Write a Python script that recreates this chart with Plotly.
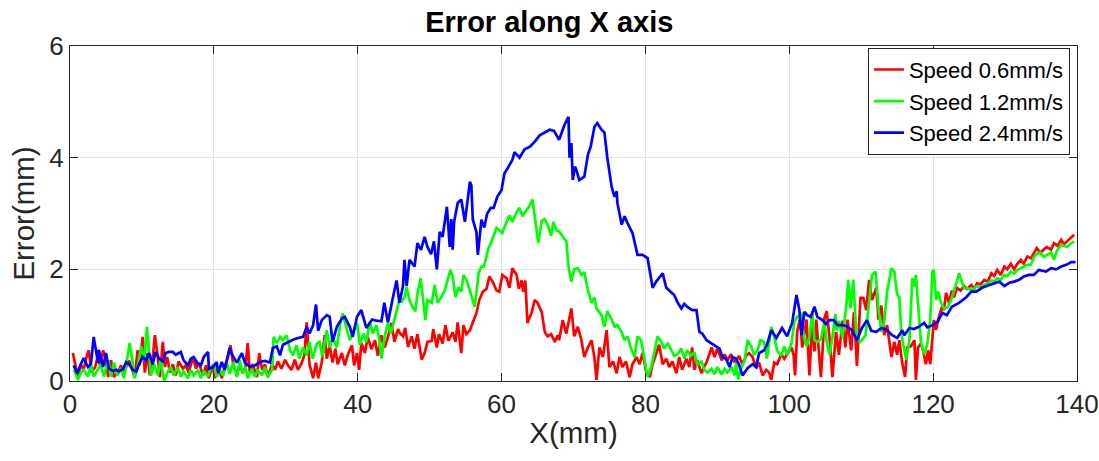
import plotly.graph_objects as go

# ---------------- data ----------------
blue_x = [0.5,1.0,1.5,1.9,2.5,2.9,3.3,3.9,4.0,4.6,5.0,5.4,6.0,6.4,6.8,7.4,7.8,8.2,8.75,9.2,9.6,10.1,10.6,11.0,11.5,11.9,12.4,12.9,13.3,13.75,14.3,14.7,15.4,15.8,16.4,16.8,17.2,17.8,18.2,18.6,19.2,19.3,19.9,20.4,20.6,21.1,21.5,22.2,22.6,23.2,23.9,24.3,25.0,25.7,26.4,27.1,27.8,28.2,28.75,29.2,29.6,30.3,31.0,31.7,32.4,32.9,33.3,33.8,34.2,34.5,35.0,35.7,36.1,36.5,37.1,37.8,38.2,38.9,39.3,39.9,40.5,41.2,42.0,42.6,43.3,43.7,44.2,44.9,45.4,45.8,46.3,46.5,46.8,47.2,47.9,48.3,48.8,49.3,49.7,50.2,50.6,51.0,51.4,51.8,52.4,52.8,53.0,53.2,53.4,53.9,54.4,54.9,55.3,55.6,55.8,56.0,56.5,56.7,57.2,57.6,58.0,58.5,58.9,59.4,60.0,60.4,60.8,61.5,61.8,62.5,63.2,64.0,64.7,65.3,66.0,66.7,67.3,68.0,68.75,69.3,69.45,69.7,69.9,70.2,70.4,70.8,71.5,72.0,72.4,72.9,73.3,73.9,74.3,74.7,75.3,75.7,76.0,76.1,76.7,77.1,77.5,78.2,78.9,79.6,80.3,81.0,81.5,81.9,82.4,82.9,83.3,84.0,84.5,85.0,85.4,85.8,86.5,87.1,87.5,87.9,88.5,89.2,89.9,90.3,90.7,91.2,91.7,92.1,92.6,93.0,93.5,94.2,94.9,95.4,95.8,96.5,96.9,97.5,98.2,99.0,99.7,100.4,101.0,101.4,101.7,102.1,102.5,103.0,103.5,103.9,104.6,105.1,105.6,106.2,106.7,107.4,108.0,108.7,109.4,110.1,110.8,111.4,112.1,112.8,113.5,114.3,115.0,115.7,116.0,116.7,117.3,118.0,118.75,119.2,119.9,120.6,121.3,121.9,122.6,123.6,124.6,125.3,126.0,126.8,127.8,128.5,129.2,129.9,130.6,131.25,131.9,132.6,133.3,134.0,134.7,135.7,136.4,137.1,137.8,138.5,139.2,139.8]
blue_y = [0.28,0.14,0.3,0.41,0.25,0.3,0.79,0.32,0.56,0.25,0.5,0.22,0.18,0.2,0.17,0.22,0.34,0.3,0.2,0.17,0.3,0.43,0.37,0.5,0.3,0.52,0.4,0.35,0.5,0.52,0.52,0.47,0.52,0.37,0.28,0.4,0.43,0.3,0.28,0.43,0.52,0.22,0.25,0.34,0.14,0.34,0.2,0.59,0.46,0.33,0.5,0.33,0.26,0.28,0.34,0.36,0.33,0.59,0.62,0.46,0.65,0.7,0.74,0.77,0.79,0.97,0.85,1.0,1.37,0.9,1.09,1.18,1.15,0.7,0.97,1.12,1.15,0.97,0.79,1.15,1.27,0.95,1.1,1.08,1.07,1.4,1.05,1.5,1.8,1.4,1.7,2.17,1.7,2.17,2.05,2.47,2.35,2.58,2.4,2.27,2.5,2.0,2.67,2.58,3.12,2.4,2.9,2.35,2.85,3.19,3.25,2.85,3.3,3.57,3.5,2.89,2.67,2.26,2.89,2.75,3.0,3.1,3.1,3.3,3.42,3.72,3.8,3.96,4.1,4.0,4.15,4.2,4.3,4.4,4.45,4.5,4.48,4.32,4.59,4.73,4.0,4.26,3.6,3.84,3.78,3.6,3.66,4.05,4.2,4.55,4.62,4.5,4.45,4.0,3.48,3.3,3.4,3.19,2.8,2.95,2.83,2.65,2.26,2.26,2.2,1.67,1.78,1.84,1.93,1.67,1.62,1.54,1.4,1.3,1.38,1.33,1.27,1.27,0.88,0.85,0.73,0.67,0.61,0.58,0.43,0.4,0.25,0.43,0.4,0.3,0.1,0.23,0.3,0.25,0.5,0.55,0.65,0.91,0.77,0.95,0.8,1.04,1.54,1.27,0.82,1.24,1.18,1.15,1.33,1.15,1.09,1.02,1.09,1.09,1.0,1.0,0.98,0.91,0.73,0.95,1.09,0.9,0.88,0.95,0.92,0.82,0.77,0.91,0.82,0.95,0.93,0.97,1.04,0.96,1.0,1.06,1.22,1.18,1.33,1.4,1.5,1.6,1.6,1.67,1.72,1.75,1.78,1.7,1.76,1.78,1.81,1.87,1.9,1.9,1.99,1.96,2.02,2.0,2.05,2.08,2.13,2.13]

red_x = [0.4,0.7,1.1,1.5,1.9,2.3,2.6,3.0,3.5,3.9,4.2,4.6,4.9,5.3,5.7,6.1,6.6,7.1,7.4,7.8,8.2,8.75,9.0,9.4,9.7,10.1,10.4,10.8,11.1,11.5,11.8,12.2,12.5,12.9,13.2,13.5,13.9,14.3,14.7,15.1,15.7,16.1,16.5,17.1,17.5,17.9,18.5,18.9,19.3,19.9,20.1,20.6,21.1,21.5,22.0,22.3,22.7,23.2,23.6,24.0,24.4,24.7,25.0,25.4,26.0,26.3,26.7,27.1,27.5,28.1,28.5,28.9,29.4,29.9,30.3,30.8,31.25,31.7,32.2,32.6,32.9,33.3,33.8,34.2,34.5,35.0,35.4,35.7,36.1,36.5,36.9,37.2,37.8,38.2,38.6,39.2,39.5,39.9,40.2,40.5,41.0,41.4,41.9,42.4,42.8,43.3,43.75,44.2,44.7,45.1,45.6,45.9,46.3,46.6,47.0,47.5,47.9,48.3,48.9,49.3,49.7,50.3,50.5,51.0,51.3,51.8,52.2,52.6,53.2,53.6,53.9,54.4,54.7,55.1,55.6,56.0,56.5,56.9,57.4,57.9,58.3,58.75,59.3,59.7,60.1,60.7,61.1,61.5,62.1,62.4,62.8,63.0,63.3,63.6,64.2,64.6,65.0,65.6,66.0,66.4,66.9,67.4,67.8,68.0,68.5,69.0,69.7,70.1,70.6,71.1,71.5,72.0,72.5,72.9,73.2,73.6,74.1,74.6,75.0,75.5,76.0,76.4,76.8,77.3,77.8,78.2,78.75,79.2,79.6,80.1,80.6,81.0,81.5,81.9,82.4,82.9,83.3,83.75,84.3,84.7,85.1,85.7,86.1,86.5,86.8,87.2,87.8,88.2,88.6,89.2,89.6,90.0,90.6,91.0,91.4,91.9,92.3,92.6,93.0,93.5,94.0,94.4,94.9,95.4,95.8,96.3,96.8,97.2,97.5,97.9,98.3,98.9,99.3,99.7,100.3,100.6,100.8,101.1,101.5,101.8,102.4,102.8,103.2,103.5,103.75,104.4,104.9,105.2,105.6,106.0,106.5,106.9,107.4,107.8,108.1,108.6,109.0,109.4,109.9,110.3,110.7,111.1,111.5,112.1,112.4,112.8,113.2,113.6,114.2,114.6,115.0,115.3,115.7,116.1,116.4,116.9,117.4,117.6,117.9,118.3,118.6,119.0,119.3,119.6,119.9,120.1,120.4,120.8,121.25,121.5,121.8,122.2,122.6,122.9,123.3,123.8,124.3,124.7,125.3,125.7,126.1,126.6,127.1,127.6,128.1,128.5,128.9,129.4,129.9,130.3,130.8,131.25,131.7,132.2,132.6,133.1,133.6,134.0,134.4,134.9,135.4,135.8,136.4,136.8,137.3,137.8,138.2,138.6,139.2,139.6]
red_y = [0.5,0.3,0.07,0.3,0.2,0.43,0.55,0.15,0.25,0.47,0.25,0.55,0.43,0.07,0.37,0.07,0.15,0.28,0.1,0.25,0.37,0.17,0.07,0.55,0.28,0.79,0.15,0.5,0.1,0.4,0.82,0.43,0.07,0.7,0.25,0.43,0.15,0.3,0.1,0.35,0.22,0.28,0.15,0.43,0.22,0.33,0.1,0.28,0.05,0.3,0.05,0.25,0.05,0.25,0.46,0.64,0.3,0.1,0.3,0.15,0.25,0.68,0.15,0.3,0.07,0.5,0.2,0.3,0.07,0.3,0.2,0.35,0.22,0.38,0.28,0.2,0.38,0.2,0.32,0.47,1.05,0.3,0.05,0.33,0.05,0.33,0.82,0.4,0.64,0.33,0.58,0.3,0.5,0.28,0.46,0.64,0.28,0.5,0.2,0.68,0.5,0.79,0.57,0.73,0.45,0.82,0.6,0.79,1.04,0.7,0.93,0.85,0.8,0.95,0.61,0.8,0.58,0.84,0.38,0.5,0.7,0.72,0.93,0.6,0.84,0.67,1.0,0.72,0.87,0.7,1.05,0.5,1.0,0.84,0.91,1.05,1.21,1.45,1.6,1.65,1.87,1.78,1.62,1.6,1.9,1.84,1.67,2.02,1.9,1.65,1.8,1.6,1.8,1.04,1.23,1.45,1.4,1.23,0.88,0.8,0.84,0.7,0.82,0.73,1.09,0.85,1.3,0.8,0.97,0.73,0.43,0.6,0.73,0.43,0.02,0.6,0.43,0.91,0.25,0.35,0.14,0.43,0.25,0.35,0.07,0.3,0.43,0.3,0.5,0.17,0.07,0.3,0.48,0.65,0.3,0.4,0.25,0.35,0.14,0.43,0.2,0.4,0.25,0.6,0.2,0.37,0.14,0.25,0.37,0.6,0.43,0.58,0.37,0.48,0.37,0.48,0.35,0.35,0.45,0.3,0.45,0.5,0.43,0.23,0.33,0.1,0.2,0.15,0.02,0.33,0.3,0.48,0.4,0.48,0.6,0.47,0.1,0.88,1.13,0.6,1.1,0.1,1.08,0.53,1.1,0.07,1.13,1.25,0.77,0.07,0.88,0.47,1.08,0.6,1.1,0.55,1.24,0.27,1.49,1.49,1.27,1.81,1.45,1.67,1.1,1.35,0.82,1.0,0.43,0.7,0.47,0.73,0.32,0.07,0.6,0.62,0.73,0.02,0.6,0.67,0.55,0.3,0.55,0.3,0.86,1.09,0.92,1.15,1.33,1.27,1.58,1.4,1.62,1.5,1.67,1.62,1.7,1.65,1.72,1.65,1.75,1.73,1.81,1.78,1.93,1.88,1.99,1.9,2.05,2.0,2.1,2.0,2.1,2.17,2.1,2.23,2.2,2.29,2.38,2.3,2.35,2.4,2.35,2.47,2.42,2.53,2.45,2.5,2.56,2.62]

green_x = [0.55,1.1,1.5,1.9,2.5,2.9,3.3,3.9,4.3,4.7,5.3,5.7,6.1,6.6,7.1,7.5,8.1,8.3,8.75,9.0,9.4,9.9,10.3,10.7,11.0,11.25,11.7,12.2,12.6,13.1,13.6,14.0,14.4,15.0,15.4,15.8,16.4,16.8,17.2,17.8,18.2,18.6,19.2,19.6,20.0,20.4,20.8,21.3,21.8,22.2,22.7,23.2,23.6,24.0,24.4,24.7,25.3,25.7,26.1,26.7,27.1,27.5,28.1,28.3,28.75,29.2,29.6,30.1,30.6,31.0,31.5,31.9,32.4,32.9,33.3,33.75,34.3,34.7,35.1,35.7,36.1,36.5,37.1,37.5,37.9,38.4,38.9,39.3,39.9,40.3,40.8,41.2,41.7,42.1,42.6,43.0,43.3,43.75,44.2,44.6,45.1,45.4,45.8,46.1,46.5,46.8,47.2,47.6,48.0,48.3,48.75,49.0,49.4,49.7,50.3,50.7,51.1,51.6,52.1,52.5,52.9,53.2,53.6,54.0,54.4,54.7,55.1,55.6,56.0,56.25,56.5,56.8,57.2,57.5,57.8,58.1,58.6,59.0,59.3,59.7,60.1,60.7,61.1,61.5,62.1,62.5,62.9,63.5,63.8,64.3,64.6,64.9,65.1,65.6,66.0,66.4,66.9,67.2,67.6,68.0,68.5,69.0,69.3,69.7,70.1,70.6,71.1,71.5,72.0,72.5,72.9,73.2,73.9,74.3,74.7,75.3,75.7,76.1,76.7,77.1,77.5,78.0,78.5,78.9,79.4,79.9,80.3,80.8,81.25,81.7,82.2,82.6,83.1,83.6,84.0,84.4,85.0,85.4,85.8,86.3,86.8,87.2,87.8,88.2,88.6,89.2,89.6,90.0,90.6,91.0,91.4,92.0,92.4,92.6,92.9,93.3,93.75,94.2,94.7,95.1,95.6,96.0,96.5,96.9,97.5,97.9,98.3,98.9,99.3,99.7,100.3,100.7,101.1,101.7,102.0,102.4,102.8,103.2,103.5,103.9,104.4,104.9,105.2,105.6,106.0,106.4,106.6,106.9,107.4,107.9,108.2,108.5,108.9,109.3,109.8,110.1,110.6,111.0,111.5,112.0,112.4,112.8,113.2,113.6,114.2,114.6,115.0,115.3,115.6,116.25,116.7,117.1,117.4,117.6,117.9,118.3,118.75,119.2,119.6,119.9,120.1,120.4,120.7,121.1,121.5,122.0,122.5,122.9,123.3,123.6,124.0,124.3,124.8,125.3,125.7,126.1,126.6,127.1,127.6,128.1,128.5,128.9,129.4,129.9,130.3,130.8,131.25,131.7,132.2,132.6,133.1,133.6,134.0,134.4,134.9,135.4,135.8,136.4,136.8,137.2,137.8,138.2,138.6,139.2,139.6]
green_y = [0.2,0.02,0.15,0.2,0.08,0.3,0.08,0.2,0.3,0.08,0.37,0.08,0.33,0.1,0.23,0.05,0.55,0.68,0.3,0.05,0.25,0.62,0.37,0.97,0.5,0.1,0.3,0.1,0.37,0.0,0.17,0.25,0.1,0.25,0.08,0.17,0.05,0.2,0.1,0.2,0.05,0.17,0.08,0.25,0.3,0.07,0.2,0.1,0.33,0.13,0.33,0.07,0.37,0.13,0.25,0.05,0.22,0.07,0.2,0.1,0.25,0.07,0.2,0.79,0.68,0.79,0.73,0.82,0.55,0.46,0.64,0.4,0.6,0.46,0.7,0.4,0.67,0.7,0.43,0.91,0.6,0.79,0.6,0.97,1.21,0.97,0.73,0.85,1.04,0.65,0.85,0.7,1.06,0.85,1.0,0.75,0.4,0.8,1.04,0.85,1.1,1.2,1.45,1.42,1.5,1.68,1.45,1.33,1.25,1.56,1.84,1.56,1.09,1.45,1.4,1.72,1.4,1.5,1.62,1.81,1.99,1.87,1.5,1.68,1.6,1.9,1.81,1.62,1.45,1.33,1.56,1.93,2.05,2.05,2.17,2.35,2.5,2.65,2.74,2.7,2.65,2.85,2.97,2.85,3.03,3.1,2.95,3.07,3.12,3.25,2.92,2.58,2.47,2.87,2.9,2.8,2.6,2.85,2.7,2.68,2.6,2.5,2.05,1.78,2.0,2.02,1.9,1.95,1.63,1.4,1.5,1.3,1.18,0.97,1.25,1.1,0.97,1.0,0.87,0.73,0.8,0.58,0.43,0.8,0.73,0.32,0.07,0.25,0.55,0.8,0.7,0.58,0.68,0.55,0.45,0.47,0.58,0.4,0.55,0.45,0.52,0.3,0.35,0.2,0.15,0.22,0.12,0.25,0.12,0.22,0.15,0.25,0.1,0.32,0.03,0.23,0.35,0.73,0.62,0.47,0.55,0.73,0.7,0.4,0.97,0.8,0.55,0.45,0.62,0.47,0.67,1.06,1.15,1.2,0.8,0.62,0.78,1.24,0.73,0.7,0.75,1.06,0.7,0.47,0.78,1.2,0.9,1.08,0.78,1.3,1.81,1.3,1.81,0.88,0.7,0.73,0.82,1.3,1.9,1.96,1.3,0.88,1.06,1.6,2.02,1.96,1.55,1.5,0.82,0.38,0.73,1.84,1.7,1.9,1.3,0.7,0.48,0.67,1.1,1.96,1.99,1.45,1.6,1.4,1.3,1.32,1.45,1.6,1.78,1.93,1.78,1.66,1.66,1.63,1.66,1.7,1.67,1.72,1.75,1.8,1.78,1.84,1.81,1.9,1.88,1.96,1.92,1.99,2.02,2.05,2.08,2.08,2.22,2.28,2.3,2.22,2.25,2.3,2.17,2.33,2.44,2.42,2.4,2.47,2.5]

series_names = ["Speed 0.6mm/s", "Speed 1.2mm/s", "Speed 2.4mm/s"]
series_colors = ["#FF0000", "#00FF00", "#0000FF"]
x_ticks = [0, 20, 40, 60, 80, 100, 120, 140]
y_ticks = [0, 2, 4, 6]

# ---------------- figure ----------------
FONT = "Liberation Sans, Arial, Helvetica, sans-serif"
AX = "#262626"

fig = go.Figure()
for xs, ys, name, col in zip([red_x, green_x, blue_x], [red_y, green_y, blue_y],
                             series_names, series_colors):
    fig.add_trace(go.Scatter(x=xs, y=ys, mode="lines", name=name,
                             line=dict(color=col, width=2.7)))

axis_common = dict(showline=True, linecolor=AX, linewidth=1, mirror="ticks",
                   ticks="inside", ticklen=8, tickcolor=AX, tickwidth=1,
                   showgrid=True, gridcolor="#e3e3e3", gridwidth=1,
                   zeroline=False, automargin=False,
                   tickfont=dict(family=FONT, size=26, color=AX))

fig.update_layout(
    width=1099, height=461,
    margin=dict(l=70, r=22, t=46, b=80),
    paper_bgcolor="white", plot_bgcolor="white",
    title=dict(text="<b>Error along X axis</b>", x=0.476, xref="paper", xanchor="center",
               y=0.952, yanchor="middle", yref="container",
               font=dict(family=FONT, size=29, color="black")),
    xaxis=dict(range=[0, 140], tickvals=x_ticks,
               title=dict(text="X(mm)", font=dict(family=FONT, size=29.5, color=AX), standoff=4),
               **axis_common),
    yaxis=dict(range=[0, 6], tickvals=y_ticks,
               title=dict(text="Error(mm)", font=dict(family=FONT, size=29.5, color=AX), standoff=6),
               **axis_common),
    legend=dict(x=0.993, xanchor="right", y=0.995, yanchor="top",
                bgcolor="white", bordercolor=AX, borderwidth=1, itemwidth=30,
                font=dict(family=FONT, size=22, color="black"),
                tracegroupgap=0),
    showlegend=True,
)

# remove the browser's default 8px body margin so the figure sits at the page origin
fig.write_html("out.html", config={"displayModeBar": False},
               post_script="document.body.style.margin='0px';")
